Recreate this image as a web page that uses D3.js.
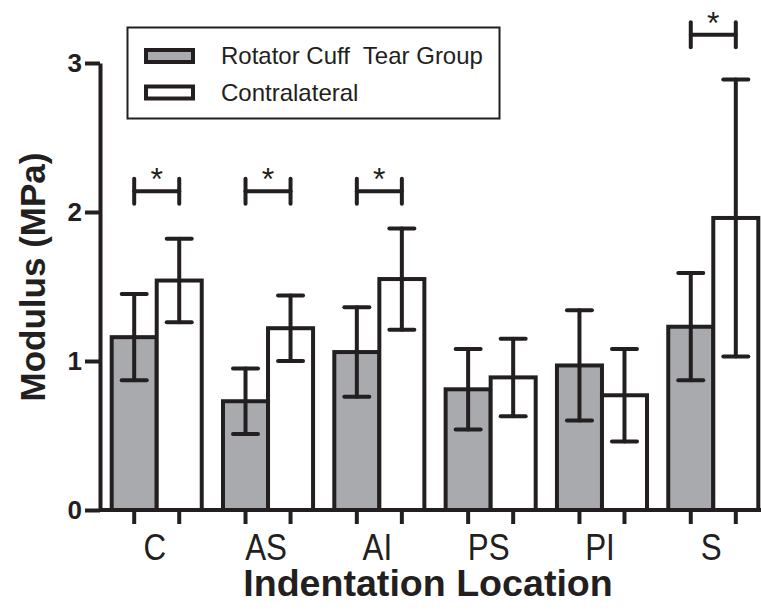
<!DOCTYPE html>
<html>
<head>
<meta charset="utf-8">
<script src="https://cdn.jsdelivr.net/npm/d3@7"></script>
<style>
  body { margin: 0; background: #fff; }
  text { font-family: "Liberation Sans", Arial, sans-serif; fill: #231f20; }
</style>
</head>
<body>
<div id="chart"></div>
<script>
// Data
const locations = ["C", "AS", "AI", "PS", "PI", "S"];
const groups = ["tear", "contra"];
const groupNames = ["Rotator Cuff  Tear Group", "Contralateral"];
const tearMean = [1.16, 0.73, 1.06, 0.81, 0.97, 1.23];
const tearErr = [0.29, 0.22, 0.30, 0.27, 0.37, 0.36];
const contraMean = [1.54, 1.22, 1.55, 0.89, 0.77, 1.96];
const contraErr = [0.28, 0.22, 0.34, 0.26, 0.31, 0.93];
const sigLocations = ["C", "AS", "AI", "S"];
const sigLevel = [2.14, 2.14, 2.14, 3.19];
const yTicks = [0, 1, 2, 3];

const width = 761, height = 610;
const margin = { top: 63, right: -9, bottom: 100, left: 100 };
const ink = "#231f20";
const fills = { tear: "#a9aaae", contra: "#ffffff" };
const lw = 4;

const svg = d3.select("#chart").append("svg")
  .attr("width", width)
  .attr("height", height);

const xScale = d3.scaleBand()
  .domain(locations)
  .range([margin.left, width - margin.right])
  .paddingInner(0.191)
  .paddingOuter(0.105);

const xSub = d3.scaleBand()
  .domain(groups)
  .range([0, xScale.bandwidth()]);

const yScale = d3.scaleLinear()
  .domain([0, 3])
  .range([height - margin.bottom, margin.top]);

const rows = locations.map((loc, i) => ({
  loc,
  bars: [
    { key: "tear", mean: tearMean[i], err: tearErr[i] },
    { key: "contra", mean: contraMean[i], err: contraErr[i] }
  ]
}));

// BARS
const g = svg.selectAll("g.loc")
  .data(rows)
  .enter()
  .append("g")
    .attr("class", "loc")
    .attr("transform", d => `translate(${xScale(d.loc)},0)`);

g.selectAll("rect")
  .data(d => d.bars)
  .enter()
  .append("rect")
    .attr("x", d => xSub(d.key))
    .attr("y", d => yScale(d.mean))
    .attr("width", xSub.bandwidth())
    .attr("height", d => yScale(0) - yScale(d.mean))
    .attr("fill", d => fills[d.key])
    .attr("stroke", ink)
    .attr("stroke-width", lw);

// error bars
const capHalf = 12.5;
const eb = g.selectAll("g.err")
  .data(d => d.bars)
  .enter()
  .append("g")
    .attr("class", "err")
    .attr("stroke", ink)
    .attr("stroke-width", lw)
    .attr("stroke-linecap", "round");

eb.append("line")
  .attr("x1", d => xSub(d.key) + xSub.bandwidth() / 2)
  .attr("x2", d => xSub(d.key) + xSub.bandwidth() / 2)
  .attr("y1", d => yScale(d.mean - d.err))
  .attr("y2", d => yScale(d.mean + d.err));

[-1, 1].forEach(sign => {
  eb.append("line")
    .attr("x1", d => xSub(d.key) + xSub.bandwidth() / 2 - capHalf)
    .attr("x2", d => xSub(d.key) + xSub.bandwidth() / 2 + capHalf)
    .attr("y1", d => yScale(d.mean + sign * d.err))
    .attr("y2", d => yScale(d.mean + sign * d.err));
});

// significance brackets
sigLocations.forEach((loc, i) => {
  const x1 = xScale(loc) + xSub("tear") + xSub.bandwidth() / 2;
  const x2 = xScale(loc) + xSub("contra") + xSub.bandwidth() / 2;
  const y = yScale(sigLevel[i]);
  const br = svg.append("g")
    .attr("stroke", ink)
    .attr("stroke-width", lw)
    .attr("stroke-linecap", "round");
  br.append("line").attr("x1", x1).attr("x2", x2).attr("y1", y).attr("y2", y);
  br.append("line").attr("x1", x1).attr("x2", x1).attr("y1", y - 12.5).attr("y2", y + 12.5);
  br.append("line").attr("x1", x2).attr("x2", x2).attr("y1", y - 12.5).attr("y2", y + 12.5);
  svg.append("text")
    .attr("x", (x1 + x2) / 2)
    .attr("y", y - 1)
    .attr("text-anchor", "middle")
    .attr("font-size", 32)
    .text("*");
});

// X-AXIS
svg.append("line")
  .attr("x1", margin.left)
  .attr("x2", width - margin.right)
  .attr("y1", yScale(0))
  .attr("y2", yScale(0))
  .attr("stroke", ink)
  .attr("stroke-width", lw);

g.selectAll("line.tick")
  .data(d => d.bars)
  .enter()
  .append("line")
    .attr("class", "tick")
    .attr("x1", d => xSub(d.key) + xSub.bandwidth() / 2)
    .attr("x2", d => xSub(d.key) + xSub.bandwidth() / 2)
    .attr("y1", yScale(0))
    .attr("y2", yScale(0) + 14)
    .attr("stroke", ink)
    .attr("stroke-width", lw);

g.append("text")
  .attr("transform", `translate(${xScale.bandwidth() / 2 - 2},560) scale(0.87,1)`)
  .attr("text-anchor", "middle")
  .attr("font-size", 36)
  .text(d => d.loc);

svg.append("text")
  .attr("x", 428)
  .attr("y", 596)
  .attr("text-anchor", "middle")
  .attr("font-size", 37.6)
  .attr("font-weight", "bold")
  .text("Indentation Location");

// Y-AXIS
const yAxis = svg.append("g")
  .attr("transform", `translate(${margin.left},0)`)
  .call(d3.axisLeft(yScale)
    .tickValues(yTicks)
    .tickFormat(d3.format("d"))
    .tickSize(15)
    .tickSizeOuter(0)
    .tickPadding(3));

yAxis.select(".domain").attr("stroke", ink).attr("stroke-width", lw);
yAxis.selectAll(".tick line").attr("stroke", ink).attr("stroke-width", lw);
yAxis.selectAll(".tick text")
  .attr("font-family", "Liberation Sans, Arial, sans-serif")
  .attr("font-size", 26)
  .attr("font-weight", "bold")
  .attr("fill", ink);

svg.append("text")
  .attr("transform", "translate(45,277) rotate(-90)")
  .attr("text-anchor", "middle")
  .attr("font-size", 35)
  .attr("font-weight", "bold")
  .text("Modulus (MPa)");

// LEGEND
const legend = svg.append("g");
legend.append("rect")
  .attr("x", 127.5)
  .attr("y", 27.5)
  .attr("width", 372)
  .attr("height", 91)
  .attr("fill", "#fff")
  .attr("stroke", ink)
  .attr("stroke-width", 2);

const legendY = [56, 92.5];
groups.forEach((key, i) => {
  legend.append("rect")
    .attr("x", 146)
    .attr("y", legendY[i] - 6)
    .attr("width", 47)
    .attr("height", 12)
    .attr("fill", fills[key])
    .attr("stroke", ink)
    .attr("stroke-width", 4);
  legend.append("text")
    .attr("x", 221)
    .attr("y", legendY[i] + 8)
    .attr("font-size", 24)
    .style("white-space", "pre")
    .text(groupNames[i]);
});
</script>
</body>
</html>
